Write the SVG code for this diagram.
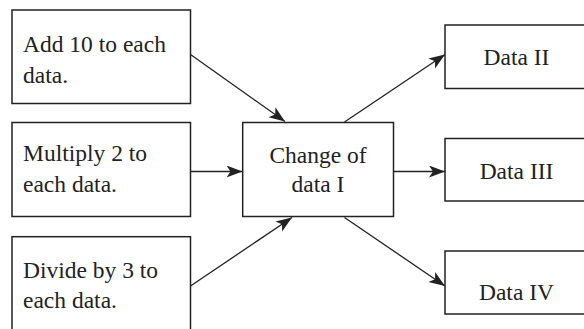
<svg xmlns="http://www.w3.org/2000/svg" width="584" height="329" viewBox="0 0 584 329">
<style>
.box{fill:#fff;stroke:#222;stroke-width:1.5}
.t{font-size:23.5px;fill:#222}
.c{text-anchor:middle}
.ln{stroke:#222;stroke-width:1.3;fill:none;marker-end:url(#ah)}
</style>
<defs>
<marker id="ah" markerUnits="userSpaceOnUse" markerWidth="18" markerHeight="14" refX="16" refY="6" orient="auto">
<path d="M0,0 L16,6 L0,12 L4,6 Z" fill="#222"/>
</marker>
</defs>
<rect width="584" height="329" fill="#fff"/>
<g id="connectors">
<line class="ln" x1="190.5" y1="54.5" x2="285" y2="121.5"/>
<line class="ln" x1="190.5" y1="171.5" x2="242.5" y2="171.5"/>
<line class="ln" x1="190.5" y1="286" x2="292" y2="217.5"/>
<line class="ln" x1="344.5" y1="122" x2="445" y2="54.5"/>
<line class="ln" x1="393.5" y1="171.5" x2="445" y2="171.5"/>
<line class="ln" x1="344.5" y1="217.5" x2="445" y2="286"/>
</g>
<g font-family="Liberation Serif, Times New Roman, serif">
<g id="add">
<rect class="box" x="12" y="10" width="178.5" height="93.5"/>
<text class="t" x="23" y="51.5">Add 10 to each</text>
<text class="t" x="23" y="83">data.</text>
</g>
<g id="multiply">
<rect class="box" x="12" y="122.5" width="178.5" height="94"/>
<text class="t" x="23" y="161">Multiply 2 to</text>
<text class="t" x="23" y="192">each data.</text>
</g>
<g id="divide">
<rect class="box" x="12" y="236.7" width="178.5" height="100"/>
<text class="t" x="23" y="278">Divide by 3 to</text>
<text class="t" x="23" y="308">each data.</text>
</g>
<g id="change">
<rect class="box" x="242.7" y="122.5" width="150.8" height="94"/>
<text class="t c" x="318" y="163">Change of</text>
<text class="t c" x="318" y="191.5">data I</text>
</g>
<g id="data2">
<rect class="box" x="445" y="25" width="150" height="63.5"/>
<text class="t c" x="516.5" y="65">Data II</text>
</g>
<g id="data3">
<rect class="box" x="445" y="138.5" width="150" height="62.5"/>
<text class="t c" x="516.5" y="178.5">Data III</text>
</g>
<g id="data4">
<rect class="box" x="445" y="251" width="150" height="63"/>
<text class="t c" x="516.5" y="300">Data IV</text>
</g>
</g>
</svg>
